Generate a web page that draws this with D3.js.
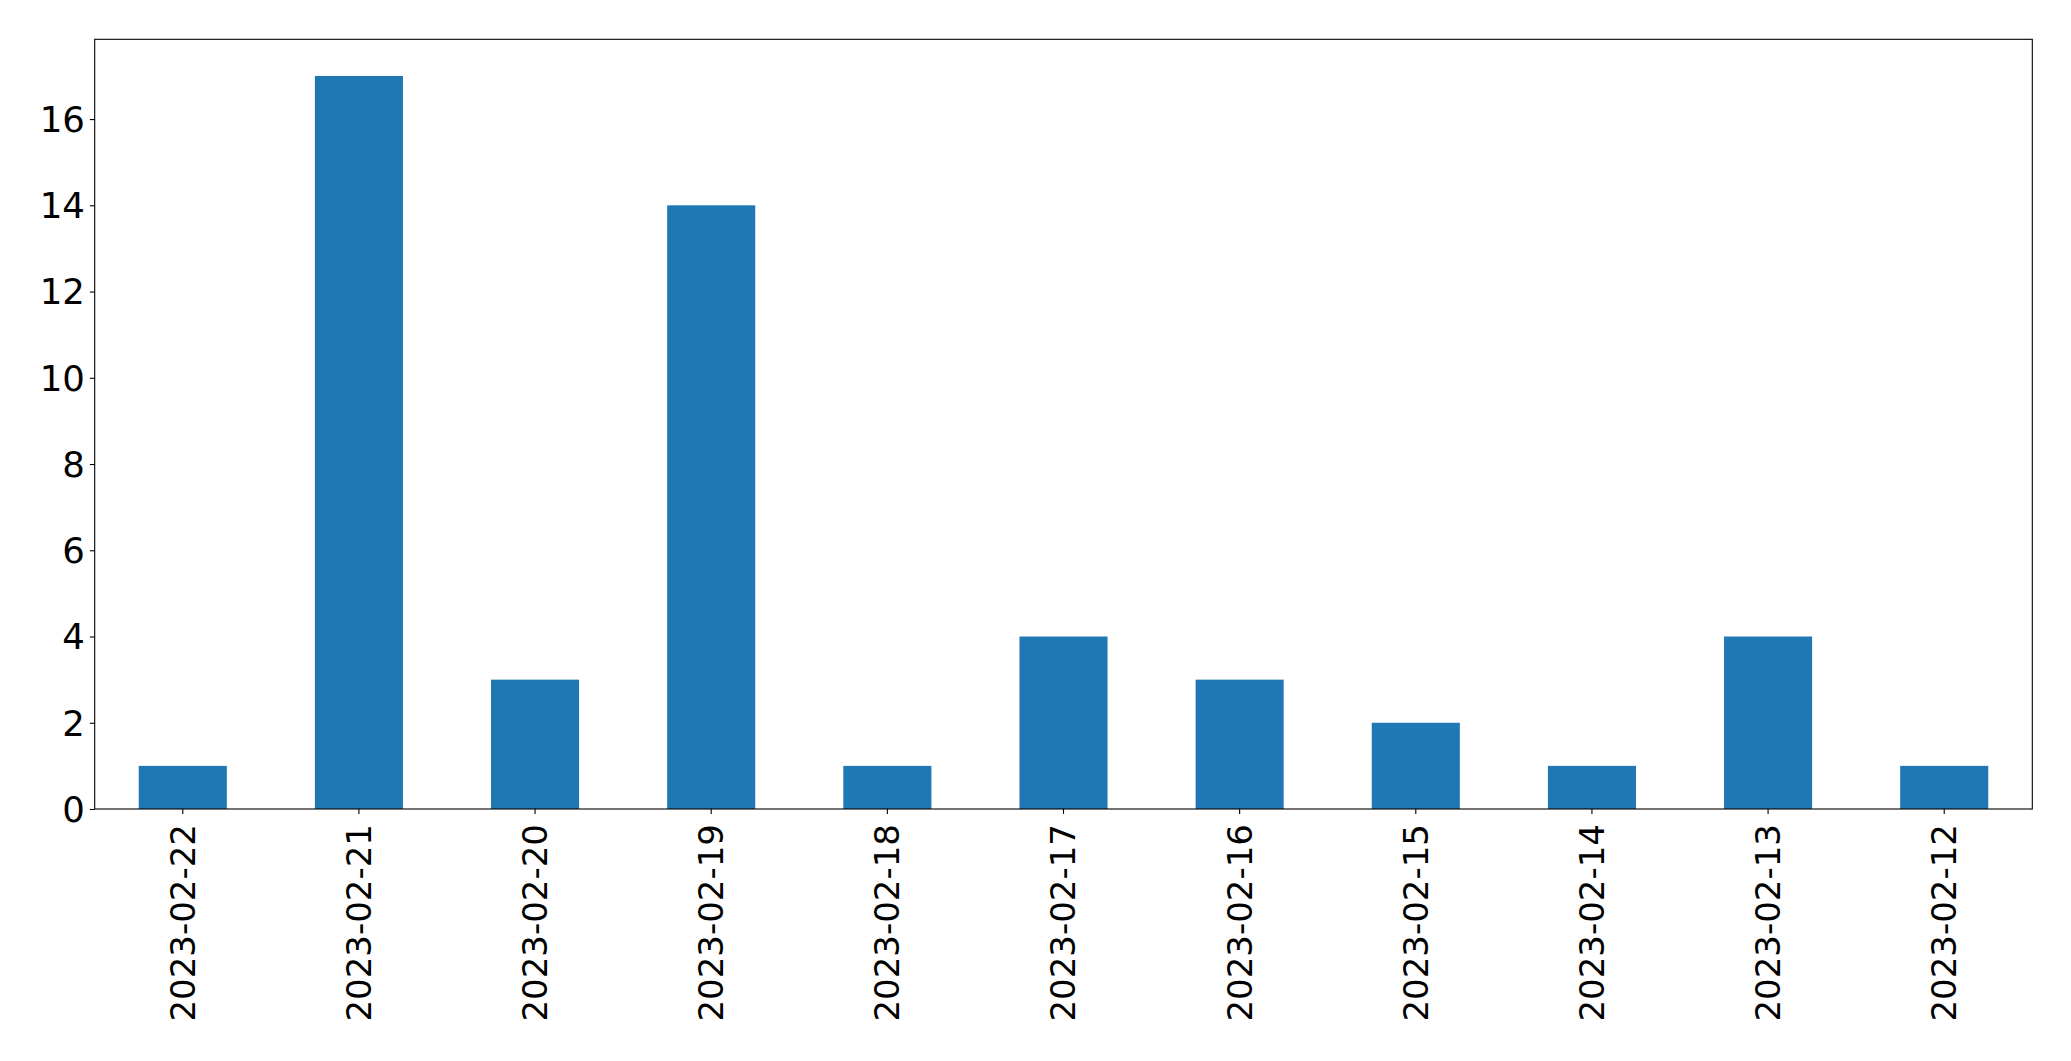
<!DOCTYPE html>
<html>
<head>
<meta charset="utf-8">
<script src="https://cdn.jsdelivr.net/npm/d3@7"></script>
<style>
  html, body { margin: 0; padding: 0; background: #fff; }
  svg { display: block; }
  text { font-family: "DejaVu Sans", sans-serif; fill: #000; }
</style>
</head>
<body>
<svg id="chart" width="2071" height="1061"></svg>
<script>
const categories = ["2023-02-22","2023-02-21","2023-02-20","2023-02-19","2023-02-18","2023-02-17","2023-02-16","2023-02-15","2023-02-14","2023-02-13","2023-02-12"];
const values = [1, 17, 3, 14, 1, 4, 3, 2, 1, 4, 1];
const yTicks = [0, 2, 4, 6, 8, 10, 12, 14, 16];

const W = 2071, H = 1061;
const margin = {left: 94.7, right: W - 2032.3, top: 39.3, bottom: H - 809};
const svg = d3.select("#chart");
const innerW = W - margin.left - margin.right;
const innerH = H - margin.top - margin.bottom;
const g = svg.append("g").attr("transform", `translate(${margin.left},${margin.top})`);

const x = d3.scaleBand().domain(categories).range([0, innerW]).paddingInner(0.5).paddingOuter(0.25);
const y = d3.scaleLinear().domain([0, d3.max(values) * 1.05]).range([innerH, 0]);

g.selectAll("rect.bar").data(values).enter().append("rect")
  .attr("class", "bar")
  .attr("x", (d, i) => x(categories[i]))
  .attr("y", d => y(d))
  .attr("width", x.bandwidth())
  .attr("height", d => y(0) - y(d))
  .attr("fill", "#1f77b4");

const yAxis = g.append("g").call(d3.axisLeft(y).tickValues(yTicks).tickSize(4.9).tickPadding(4.9).tickFormat(d3.format("d")));
yAxis.select(".domain").remove();
yAxis.selectAll("line").attr("stroke", "#000").attr("stroke-width", 1.1);
yAxis.selectAll("text").style("font-size", "35.5px").attr("dy", "0.35em");

const xAxis = g.append("g").attr("transform", `translate(0,${innerH})`)
  .call(d3.axisBottom(x).tickSize(4.9).tickPadding(0));
xAxis.select(".domain").remove();
xAxis.selectAll("line").attr("stroke", "#000").attr("stroke-width", 1.1);
xAxis.selectAll("text")
  .style("font-size", "34px")
  .attr("text-anchor", "end")
  .attr("dy", "0.35em")
  .attr("x", 0)
  .attr("y", 0)
  .attr("transform", "translate(0,15) rotate(-90)");

g.append("rect").attr("x", 0).attr("y", 0).attr("width", innerW).attr("height", innerH)
  .attr("fill", "none").attr("stroke", "#000").attr("stroke-width", 1.1);
</script>
</body>
</html>
